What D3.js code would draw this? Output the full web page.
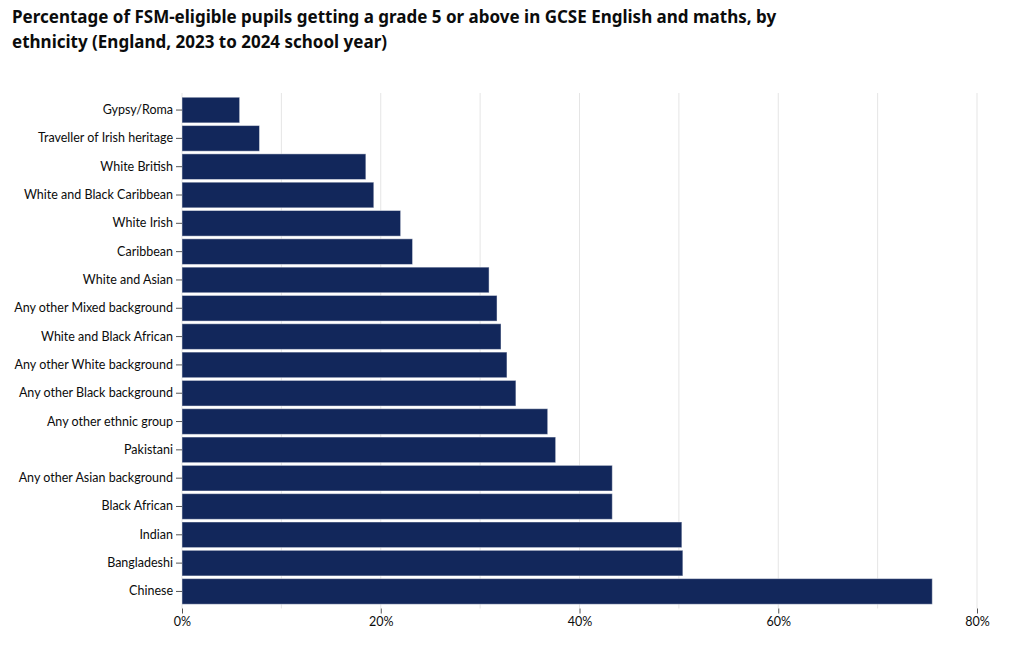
<!DOCTYPE html>
<html>
<head>
<meta charset="utf-8">
<script src="https://cdn.jsdelivr.net/npm/d3@7"></script>
<style>
    body { margin: 0; background: #fff; font-family: "Noto Sans", Lato, sans-serif; }
    .title { font-size: 17px; font-weight: 700; fill: #0b0c0c; }
    .axis text { font-size: 12.5px; fill: #0b0c0c; font-family: Lato, "Noto Sans", sans-serif; }
    .axis .domain { display: none; }
    .axis .tick line { stroke: #555; }
    .grid line { stroke: #e5e5e5; }
    .bar { fill: #12275b; stroke: #ffffff; stroke-opacity: 0.45; stroke-width: 1; }
</style>
</head>
<body>
<div id="chart"></div>
<script>
const categories = [
    "Gypsy/Roma", "Traveller of Irish heritage", "White British", "White and Black Caribbean",
    "White Irish", "Caribbean", "White and Asian", "Any other Mixed background",
    "White and Black African", "Any other White background", "Any other Black background",
    "Any other ethnic group", "Pakistani", "Any other Asian background", "Black African",
    "Indian", "Bangladeshi", "Chinese"
];
const values = [5.8, 7.8, 18.5, 19.3, 22.0, 23.2, 30.9, 31.7, 32.1, 32.7, 33.6, 36.8, 37.6, 43.3, 43.3, 50.3, 50.4, 75.5];
const gridTicks = [0, 10, 20, 30, 40, 50, 60, 70, 80];
const labelTicks = [0, 20, 40, 60, 80];
const titleLines = [
    "Percentage of FSM-eligible pupils getting a grade 5 or above in GCSE English and maths, by",
    "ethnicity (England, 2023 to 2024 school year)"
];

const svgWidth = 1024, svgHeight = 648;
const plotLeft = 182, plotRight = 977, plotTop = 93, plotBottom = 608.5;

const svg = d3.select("#chart").append("svg")
    .attr("width", svgWidth)
    .attr("height", svgHeight);

svg.selectAll(".title")
    .data(titleLines)
    .join("text")
    .attr("class", "title")
    .attr("x", 12)
    .attr("y", (d, i) => 23 + i * 25)
    .text(d => d);

const xScale = d3.scaleLinear().domain([0, 80]).range([plotLeft, plotRight]);
const yScale = d3.scaleBand().domain(categories).range([plotTop, plotBottom])
    .paddingInner(0.095).paddingOuter(0.15);

// gridlines every 10%
svg.append("g")
    .attr("class", "grid")
    .selectAll("line")
    .data(gridTicks)
    .join("line")
    .attr("x1", d => xScale(d))
    .attr("x2", d => xScale(d))
    .attr("y1", plotTop)
    .attr("y2", plotBottom);

svg.selectAll(".bar")
    .data(values)
    .join("rect")
    .attr("class", "bar")
    .attr("x", xScale(0))
    .attr("y", (d, i) => yScale(categories[i]))
    .attr("width", d => xScale(d) - xScale(0))
    .attr("height", yScale.bandwidth());

const xAxis = d3.axisBottom(xScale).tickValues(labelTicks).tickSize(5).tickPadding(4)
    .tickFormat(d => d + "%");
svg.append("g")
    .attr("class", "x-axis axis")
    .attr("transform", `translate(0, ${plotBottom})`)
    .call(xAxis);

const yAxis = d3.axisLeft(yScale).tickSize(6).tickPadding(3);
svg.append("g")
    .attr("class", "y-axis axis")
    .attr("transform", `translate(${plotLeft}, 0)`)
    .call(yAxis);
</script>
</body>
</html>
